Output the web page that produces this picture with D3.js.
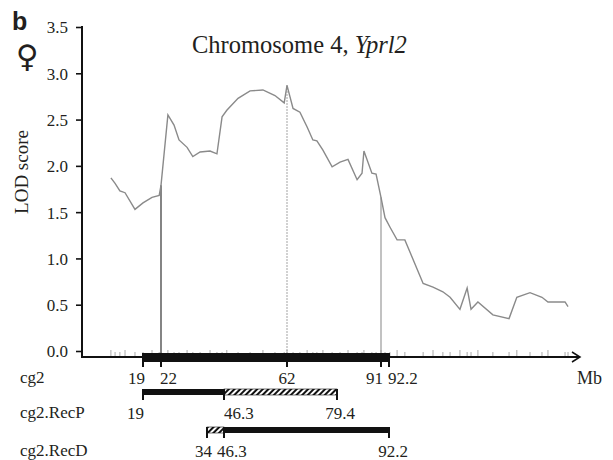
<!DOCTYPE html>
<html>
<head>
<meta charset="utf-8">
<script src="https://cdn.jsdelivr.net/npm/d3@7"></script>
<style>
  body { margin: 0; background: #fff; }
  text { font-family: "Liberation Serif", "Times New Roman", serif; fill: #231f20; }
</style>
</head>
<body>
<script>
// LOD profile (position in Mb, LOD score).
const lodMb = [9.0, 10.3, 11.8, 13.4, 16.5, 19.0, 20.5, 21.7, 22.0, 23.8, 25.4, 26.7, 28.8, 30.3,
  32.2, 36.2, 41.2, 44.9, 47.0, 49.8, 52.8, 56.0, 59.0, 61.3, 62.0, 64.1, 66.5, 69.0, 71.0, 72.4,
  74.5, 77.7, 80.2, 82.3, 84.7, 86.0, 86.5, 88.6, 89.7, 91.0, 91.6, 92.5, 94.9, 97.5, 103.6,
  106.9, 110.2, 112.6, 115.9, 118.3, 119.6, 121.9, 126.9, 132.3, 134.9, 139.3, 143.3, 145.3,
  151.0, 152.0];
const lodScore = [1.87, 1.81, 1.73, 1.71, 1.53, 1.60, 1.66, 1.68, 1.79, 2.55, 2.44, 2.28, 2.20, 2.10,
  2.15, 2.16, 2.13, 2.53, 2.60, 2.73, 2.81, 2.82, 2.76, 2.68, 2.87, 2.62, 2.58, 2.42, 2.28, 2.27,
  2.17, 1.99, 2.04, 2.07, 1.85, 1.92, 2.16, 1.92, 1.91, 1.66, 1.44, 1.34, 1.20, 1.20, 0.73,
  0.69, 0.64, 0.58, 0.45, 0.68, 0.45, 0.53, 0.39, 0.35, 0.58, 0.63, 0.58, 0.53,
  0.53, 0.48];

const yTicks = [0, 0.5, 1.0, 1.5, 2.0, 2.5, 3.0, 3.5];
// the Mb axis of the figure is not drawn to scale, so the scale breaks at the labelled points
const mbBreaks = [0, 19, 22, 34, 46.3, 62, 79.4, 91, 92.2, 156];
const peakMarks = [22, 62, 91];

// congenic intervals
const intervalNames = ["cg2", "cg2.RecP", "cg2.RecD"];
const solidParts = [[19, 92.2], [19, 46.3], [46.3, 92.2]];
const hatchParts = [null, [46.3, 79.4], [34, 46.3]];
const intervalTicks = [[19, 22, 62, 91, 92.2], [19, 46.3, 79.4], [34, 46.3, 92.2]];

const W = 613, H = 460;
const svg = d3.select("body").append("svg").attr("width", W).attr("height", H);

// Scales.
const x = d3.scaleLinear().domain(mbBreaks)
  .range([82, 143, 161, 207, 224, 287, 337, 381, 389, 580]);
const y = d3.scaleLinear().domain([0, 3.5]).range([351, 27]);
const axisY = 357;

// hatch pattern
const pat = svg.append("defs").append("pattern")
  .attr("id", "hatch").attr("patternUnits", "userSpaceOnUse")
  .attr("width", 4).attr("height", 4)
  .attr("patternTransform", "rotate(45)");
pat.append("rect").attr("width", 4).attr("height", 4).attr("fill", "#fff");
pat.append("rect").attr("width", 2).attr("height", 4).attr("fill", "#111");

// Header.
svg.append("text").attr("x", 12).attr("y", 30)
  .style("font-family", "'Liberation Sans', Arial, sans-serif")
  .style("font-weight", "bold").style("font-size", "25px").text("b");
svg.append("text").attr("x", 27).attr("y", 67).attr("text-anchor", "middle")
  .style("font-family", "'DejaVu Sans', sans-serif")
  .style("font-size", "31px").text("\u2640");

const title = svg.append("text").attr("x", 192).attr("y", 53).style("font-size", "24.5px");
title.append("tspan").text("Chromosome 4, ");
title.append("tspan").style("font-style", "italic").text("Yprl2");

// Y axis.
const yAxis = d3.axisLeft(y).tickValues(yTicks).tickFormat(d3.format(".1f")).tickSize(6);
const yG = svg.append("g").attr("transform", "translate(82,0)").call(yAxis)
  .attr("font-family", "'Liberation Serif', serif");
yG.select(".domain").remove();
yG.selectAll(".tick line").attr("stroke", "#111").attr("stroke-width", 1.6);
yG.selectAll(".tick text").attr("x", -14).attr("dy", "0.35em").style("font-size", "17px")
  .attr("fill", "#231f20");
svg.append("line").attr("x1", 82).attr("x2", 82).attr("y1", y(3.5) - 1).attr("y2", axisY + 1)
  .attr("stroke", "#111").attr("stroke-width", 2);

svg.append("text")
  .attr("transform", `translate(28, 172) rotate(-90)`)
  .attr("text-anchor", "middle").style("font-size", "19px").text("LOD score");

// X axis with arrow.
svg.append("line").attr("x1", 82).attr("x2", x(156)).attr("y1", axisY).attr("y2", axisY)
  .attr("stroke", "#111").attr("stroke-width", 2);
svg.append("path")
  .attr("d", `M${x(156) - 8},${axisY - 5} L${x(156)},${axisY} L${x(156) - 8},${axisY + 5}`)
  .attr("fill", "none").attr("stroke", "#111").attr("stroke-width", 1.5);
svg.append("text").attr("x", 577).attr("y", 384).style("font-size", "18px").text("Mb");

// marker ticks along the axis
svg.append("g").selectAll("line").data(lodMb).join("line")
  .attr("x1", d => x(d)).attr("x2", d => x(d))
  .attr("y1", axisY - 1).attr("y2", (d, i) => axisY - (i % 3 === 0 ? 7 : 5))
  .attr("stroke", "#aaa").attr("stroke-width", 1);

// Vertical lines at the interval limits / peak.
const lodAt = mb => lodScore[lodMb.indexOf(mb)];
svg.append("g").selectAll("line").data(peakMarks).join("line")
  .attr("x1", d => x(d)).attr("x2", d => x(d))
  .attr("y1", d => y(lodAt(d))).attr("y2", axisY)
  .attr("stroke", (d, i) => i === 0 ? "#666" : "#999")
  .attr("stroke-width", (d, i) => i === 0 ? 1.6 : 1.2)
  .attr("stroke-dasharray", (d, i) => i === 1 ? "1.5,1.5" : null);

// LOD curve.
const lineGen = d3.line().x(d => x(d[0])).y(d => y(d[1]));
svg.append("path").datum(d3.zip(lodMb, lodScore))
  .attr("d", lineGen).attr("fill", "none")
  .attr("stroke", "#8a8a8a").attr("stroke-width", 1.4);

// Congenic interval bars.
const rowBarY = [353, 389, 427];
const rowBarH = [9, 6, 6];
const rowTextY = [384, 419, 457];
const anchors = [
  [["end", 2], ["start", -1], ["middle", 0], ["end", 2], ["start", -1]],
  [["end", 1], ["start", 0], ["middle", 3]],
  [["end", 5], ["start", -7], ["middle", 4]]
];

intervalNames.forEach((name, r) => {
  const g = svg.append("g");
  const by = rowBarY[r], bh = rowBarH[r];
  svg.append("text").attr("x", 20).attr("y", rowTextY[r] - 1).style("font-size", "17px").text(name);

  if (hatchParts[r]) {
    const [a, b] = hatchParts[r];
    g.append("rect").attr("x", x(a)).attr("y", by).attr("width", x(b) - x(a)).attr("height", bh)
      .attr("fill", "url(#hatch)").attr("stroke", "#111").attr("stroke-width", 0.6);
  }
  const [a, b] = solidParts[r];
  g.append("rect").attr("x", x(a)).attr("y", by).attr("width", x(b) - x(a)).attr("height", bh)
    .attr("fill", "#111");

  g.selectAll("line.tk").data(intervalTicks[r]).join("line")
    .attr("x1", d => x(d)).attr("x2", d => x(d))
    .attr("y1", by).attr("y2", by + bh + 5)
    .attr("stroke", "#111").attr("stroke-width", 2);

  g.selectAll("text.lbl").data(intervalTicks[r]).join("text")
    .attr("x", (d, i) => x(d) + anchors[r][i][1])
    .attr("y", rowTextY[r])
    .attr("text-anchor", (d, i) => anchors[r][i][0])
    .style("font-size", "17px")
    .text(d => d);
});
</script>
</body>
</html>
